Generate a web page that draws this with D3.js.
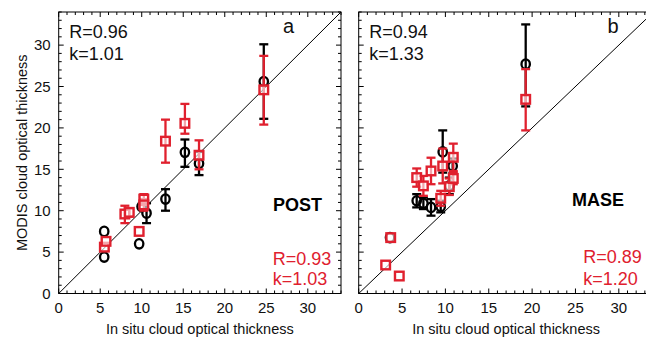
<!DOCTYPE html>
<html>
<head>
<meta charset="utf-8">
<script src="https://cdn.jsdelivr.net/npm/d3@7"></script>
<style>
  html, body { margin: 0; padding: 0; background: #fff; }
  svg { display: block; font-family: "Liberation Sans", Arial, sans-serif; }
</style>
</head>
<body>
<svg id="chart" width="646" height="339"></svg>
<script>
// In situ vs MODIS cloud optical thickness: [insitu, modis, errLow, errHigh]
const postBlack = [
  [24.7, 25.6, 21.1, 30.1],
  [16.9, 15.7, 14.3, 17.1],
  [15.2, 17.05, 15.3, 18.6],
  [12.86, 11.4, 10.0, 12.6],
  [10.58, 9.7, 8.5, 10.9],
  [9.98, 10.5, 10.5, 10.5],
  [9.69, 6.0, 6.0, 6.0],
  [5.48, 7.5, 7.5, 7.5],
  [5.48, 4.4, 4.4, 4.4]
];
const postRed = [
  [24.7, 24.6, 20.4, 28.7],
  [12.86, 18.4, 15.8, 21.0],
  [15.2, 20.55, 19.3, 22.9],
  [16.9, 16.7, 15.0, 18.5],
  [10.25, 11.4, 10.7, 12.0],
  [10.25, 10.7, 10.0, 11.4],
  [9.69, 7.5, 7.5, 7.5],
  [7.97, 9.6, 8.5, 10.6],
  [8.5, 9.8, 9.3, 10.3],
  [5.5, 5.6, 5.6, 5.6],
  [5.7, 6.3, 6.3, 6.3]
];
const maseBlack = [
  [19.26, 27.7, 22.6, 32.5],
  [9.69, 17.1, 14.6, 19.7],
  [10.84, 15.4, 14.5, 16.3],
  [10.45, 13.0, 12.0, 14.0],
  [6.69, 11.2, 10.4, 12.0],
  [7.46, 10.9, 10.2, 11.6],
  [8.34, 10.4, 9.4, 11.4],
  [9.46, 10.5, 9.8, 11.2],
  [3.61, 6.75, 6.75, 6.75]
];
const maseRed = [
  [19.26, 23.45, 19.7, 27.1],
  [10.91, 16.45, 14.8, 18.1],
  [9.69, 15.4, 13.3, 17.5],
  [8.34, 14.8, 13.2, 16.4],
  [6.69, 14.0, 12.9, 15.1],
  [7.46, 13.0, 11.8, 14.2],
  [9.46, 11.5, 10.6, 12.4],
  [10.45, 12.9, 11.9, 13.9],
  [10.91, 13.9, 13.2, 14.6],
  [3.69, 6.75, 6.75, 6.75],
  [3.11, 3.44, 3.44, 3.44],
  [4.68, 2.11, 2.11, 2.11]
];
const tickValues = [0, 5, 10, 15, 20, 25, 30];
const panels = [
  { letter: "a", campaign: "POST", black: postBlack, red: postRed,
    statsBlack: ["R=0.96", "k=1.01"], statsRed: ["R=0.93", "k=1.03"] },
  { letter: "b", campaign: "MASE", black: maseBlack, red: maseRed,
    statsBlack: ["R=0.94", "k=1.33"], statsRed: ["R=0.89", "k=1.20"] }
];

const RED = "#e0202e";
const svg = d3.select("#chart");
const domainMax = 34;
const plotTop = 12, plotBottom = 293.5;
const layout = [
  { left: 58.7, right: 341, statsRedX: 272.7, campaignX: 322, campaignY: 210.7, redY: 265 },
  { left: 358.7, right: 653.5, statsRedX: 583.3, campaignX: 624, campaignY: 206, redY: 263.3 }
];

panels.forEach((p, i) => {
  const L = layout[i];
  const x = d3.scaleLinear().domain([0, domainMax]).range([L.left, L.right]);
  const y = d3.scaleLinear().domain([0, domainMax]).range([plotBottom, plotTop]);
  const g = svg.append("g");
  const clipId = "clip" + i;
  svg.append("clipPath").attr("id", clipId).append("rect")
    .attr("x", L.left).attr("y", plotTop).attr("width", L.right - L.left).attr("height", plotBottom - plotTop);

  // inward ticks on all four sides: major every 5, minor every 1
  const minor = d3.range(0, domainMax + 0.01, 1).filter(v => v % 5 !== 0);
  const allTicks = tickValues.map(v => ({ v, len: 5 })).concat(minor.map(v => ({ v, len: 3 })));
  const sides = [
    { tr: `translate(0,${plotBottom})`, dir: -1, horiz: true, labels: true },
    { tr: `translate(0,${plotTop})`, dir: 1, horiz: true, labels: false },
    { tr: `translate(${L.left},0)`, dir: 1, horiz: false, labels: i === 0 },
    { tr: `translate(${L.right},0)`, dir: -1, horiz: false, labels: false }
  ];
  sides.forEach(a => {
    const ag = g.append("g").attr("transform", a.tr);
    const sc = a.horiz ? x : y;
    ag.selectAll("line.t").data(allTicks).join("line")
      .attr("class", "t")
      .attr("x1", d => a.horiz ? sc(d.v) : 0)
      .attr("x2", d => a.horiz ? sc(d.v) : a.dir * d.len)
      .attr("y1", d => a.horiz ? 0 : sc(d.v))
      .attr("y2", d => a.horiz ? a.dir * d.len : sc(d.v))
      .attr("stroke", "#000").attr("stroke-width", 1);
    if (a.labels) {
      ag.selectAll("text.l").data(tickValues).join("text")
        .attr("class", "l")
        .attr("x", d => a.horiz ? sc(d) : -8)
        .attr("y", d => a.horiz ? 19.5 : sc(d))
        .attr("dy", a.horiz ? 0 : "0.35em")
        .attr("text-anchor", a.horiz ? "middle" : "end")
        .attr("font-size", "15px").attr("fill", "#111")
        .text(d => d);
    }
  });

  // frame
  g.append("rect").attr("x", L.left).attr("y", plotTop)
    .attr("width", L.right - L.left).attr("height", plotBottom - plotTop)
    .attr("fill", "none").attr("stroke", "#000").attr("stroke-width", 1);

  // 1:1 line
  g.append("line").attr("clip-path", `url(#${clipId})`)
    .attr("x1", x(0)).attr("y1", y(0)).attr("x2", x(domainMax)).attr("y2", y(domainMax))
    .attr("stroke", "#000").attr("stroke-width", 1);

  function drawSeries(data, color, shape) {
    const s = g.append("g");
    const withErr = data.filter(d => d[3] > d[2]);
    s.selectAll("line.err").data(withErr).join("line")
      .attr("class", "err")
      .attr("x1", d => x(d[0])).attr("x2", d => x(d[0]))
      .attr("y1", d => y(d[2])).attr("y2", d => y(d[3]))
      .attr("stroke", color).attr("stroke-width", 2.3);
    const caps = [];
    withErr.forEach(d => { caps.push([d[0], d[2]]); caps.push([d[0], d[3]]); });
    s.selectAll("line.cap").data(caps).join("line")
      .attr("class", "cap")
      .attr("x1", d => x(d[0]) - 4.5).attr("x2", d => x(d[0]) + 4.5)
      .attr("y1", d => y(d[1])).attr("y2", d => y(d[1]))
      .attr("stroke", color).attr("stroke-width", 2.3);
    if (shape === "circle") {
      s.selectAll("ellipse").data(data).join("ellipse")
        .attr("cx", d => x(d[0])).attr("cy", d => y(d[1]))
        .attr("rx", 4.2).attr("ry", 4.7)
        .attr("fill", "none").attr("stroke", color).attr("stroke-width", 2.3);
    } else {
      s.selectAll("rect").data(data).join("rect")
        .attr("x", d => x(d[0]) - 4.3).attr("y", d => y(d[1]) - 4.3)
        .attr("width", 8.6).attr("height", 8.6)
        .attr("fill", "#fff").attr("fill-opacity", 0.6)
        .attr("stroke", color).attr("stroke-width", 2.4);
    }
  }
  drawSeries(p.black, "#000", "circle");
  drawSeries(p.red, RED, "square");

  // annotations
  const tx = L.left + 10.6;
  g.append("text").attr("x", tx).attr("y", 37.7).attr("font-size", "18px").attr("fill", "#111").text(p.statsBlack[0]);
  g.append("text").attr("x", tx).attr("y", 60).attr("font-size", "18px").attr("fill", "#111").text(p.statsBlack[1]);
  g.append("text").attr("x", i === 0 ? 288.5 : 613).attr("y", 33).attr("text-anchor", "middle")
    .attr("font-size", "20px").attr("fill", "#111").text(p.letter);
  g.append("text").attr("x", L.campaignX).attr("y", L.campaignY).attr("text-anchor", "end")
    .attr("font-size", "18px").attr("font-weight", "bold").attr("fill", "#000").text(p.campaign);
  g.append("text").attr("x", L.statsRedX).attr("y", L.redY).attr("font-size", "18px").attr("fill", RED).text(p.statsRed[0]);
  g.append("text").attr("x", L.statsRedX).attr("y", 285).attr("font-size", "18px").attr("fill", RED).text(p.statsRed[1]);

  // x axis title
  g.append("text").attr("x", (L.left + L.right) / 2).attr("y", 333.5).attr("text-anchor", "middle")
    .attr("font-size", "14.5px").attr("fill", "#111").text("In situ cloud optical thickness");
});

// y axis title
svg.append("text").attr("transform", `translate(26.5,${(plotTop + plotBottom) / 2}) rotate(-90)`)
  .attr("text-anchor", "middle").attr("font-size", "14.5px").attr("fill", "#111")
  .text("MODIS cloud optical thickness");
</script>
</body>
</html>
